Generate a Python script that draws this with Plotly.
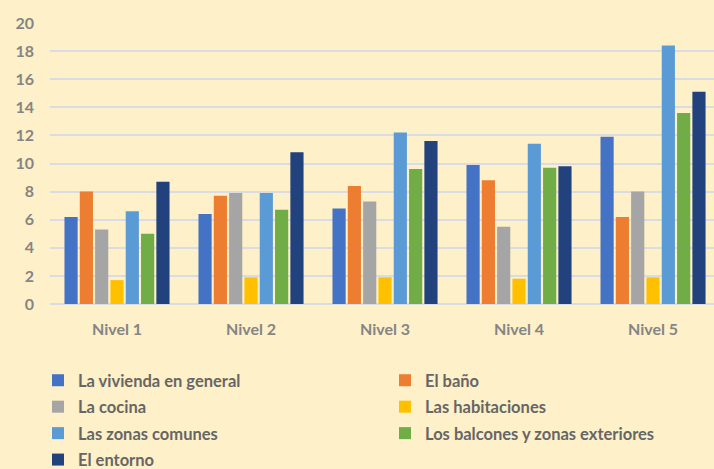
import plotly.graph_objects as go

categories = ["Nivel 1", "Nivel 2", "Nivel 3", "Nivel 4", "Nivel 5"]
series_names = [
    "La vivienda en general",
    "El baño",
    "La cocina",
    "Las habitaciones",
    "Las zonas comunes",
    "Los balcones y zonas exteriores",
    "El entorno",
]
vivienda = [6.2, 6.4, 6.8, 9.9, 11.9]
bano = [8.0, 7.7, 8.4, 8.8, 6.2]
cocina = [5.3, 7.9, 7.3, 5.5, 8.0]
habitaciones = [1.7, 1.9, 1.9, 1.8, 1.9]
zonas_comunes = [6.6, 7.9, 12.2, 11.4, 18.4]
balcones = [5.0, 6.7, 9.6, 9.7, 13.6]
entorno = [8.7, 10.8, 11.6, 9.8, 15.1]
series_values = [vivienda, bano, cocina, habitaciones, zonas_comunes, balcones, entorno]
y_ticks = [0, 2, 4, 6, 8, 10, 12, 14, 16, 18, 20]

colors = ["#4472C4", "#ED7D31", "#A5A5A5", "#FFC000", "#5B9BD5", "#70AD47", "#22427E"]
BG = "#FEF0C8"
FONT = "Lato"

fig = go.Figure()
for i, (name, vals) in enumerate(zip(series_names, series_values)):
    fig.add_trace(go.Bar(
        x=categories, y=vals, name=name,
        marker=dict(color=colors[i], line=dict(width=0)),
        legend="legend" if i % 2 == 0 else "legend2",
        legendgroup=f"g{i}",
    ))

W, H = 714, 469
legend_common = dict(
    orientation="v", bgcolor="rgba(0,0,0,0)", borderwidth=0,
    font=dict(family=FONT, size=16.5, color="#666666", weight="bold"),
    tracegroupgap=2, xref="container", yref="container",
    xanchor="left", yanchor="top", itemclick=False,
)
tick_font = dict(family=FONT, size=16, color="#858585", weight="bold")
fig.update_layout(
    width=W, height=H,
    paper_bgcolor=BG, plot_bgcolor=BG,
    margin=dict(l=50, r=0, t=23, b=165, autoexpand=False),
    barmode="group", bargap=0.2, bargroupgap=0.14,
    font=dict(family=FONT, size=15, color="#7F7F7F"),
    xaxis=dict(range=[-0.5, 4.455], showgrid=False, showline=False, ticks="",
               tickangle=0, automargin=False,
               ticklabelstandoff=14, tickfont=tick_font),
    yaxis=dict(range=[0, 20], tickvals=y_ticks, showgrid=True, gridcolor="#D9DCE4",
               gridwidth=1.5, zeroline=True, zerolinecolor="#D9DCE4", zerolinewidth=1.5,
               showline=False, ticks="", ticklabelstandoff=15, automargin=False,
               tickfont=tick_font),
    legend=dict(**legend_common, x=38 / W, y=1 - 363 / H),
    legend2=dict(**legend_common, x=385 / W, y=1 - 363 / H),
    showlegend=True,
)

fig.write_html("out.html")
